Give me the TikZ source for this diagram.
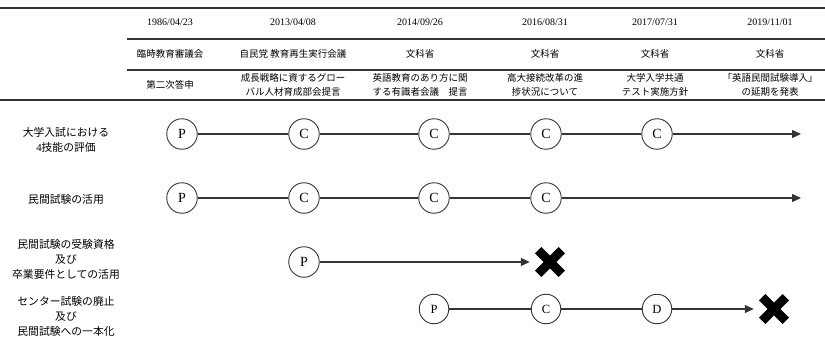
\documentclass[tikz,border=0pt]{standalone}
\usepackage{fontspec}
\setmainfont{Liberation Serif}
\newfontfamily\jp{Noto Sans CJK JP}
\usetikzlibrary{arrows.meta}
\definecolor{ln}{HTML}{333333}
\tikzset{
  cell/.style={font=\fontsize{9.5}{14}\selectfont\jp, align=center, inner sep=0pt},
  datecell/.style={font=\fontsize{10}{12}\selectfont, inner sep=0pt},
  rowlabel/.style={font=\fontsize{10.8}{15}\selectfont\jp, align=center, inner sep=0pt},
  ev/.style={circle, draw=ln, line width=0.9pt, minimum size=30.5pt, inner sep=0pt, font=\fontsize{14}{14}\selectfont},
  evs/.style={ev, minimum size=29.5pt, font=\fontsize{12.5}{12.5}\selectfont},
  tl/.style={draw=ln, line width=1.2pt},
  tla/.style={tl, -{Triangle[length=9pt,width=8pt]}},
  cross/.style={rectangle, minimum size=32pt, inner sep=0pt,
    path picture={\draw[black, line width=9pt]
      ([shift={(-11.8pt,-11.8pt)}]path picture bounding box.center) -- ([shift={(11.8pt,11.8pt)}]path picture bounding box.center)
      ([shift={(-11.8pt,11.8pt)}]path picture bounding box.center) -- ([shift={(11.8pt,-11.8pt)}]path picture bounding box.center);}},
  rulethick/.style={draw=ln, line width=1.3pt},
  rulethin/.style={draw=ln, line width=1.1pt}
}
\begin{document}
\begin{tikzpicture}[x=1pt,y=-1pt]
\useasboundingbox (0,0) rectangle (825,342);
% table rules
\coordinate (r1a) at (0,8); \coordinate (r1b) at (825,8);
\coordinate (r2a) at (127,39); \coordinate (r2b) at (825,39);
\coordinate (r3a) at (127,70); \coordinate (r3b) at (825,70);
\coordinate (r4a) at (0,100); \coordinate (r4b) at (825,100);
\draw[rulethick] (r1a) -- (r1b);
\draw[rulethin] (r2a) -- (r2b);
\draw[rulethin] (r3a) -- (r3b);
\draw[rulethick] (r4a) -- (r4b);
% dates
\node[datecell] (d1) at (170,22) {1986/04/23};
\node[datecell] (d2) at (293,22) {2013/04/08};
\node[datecell] (d3) at (420,22) {2014/09/26};
\node[datecell] (d4) at (545,22) {2016/08/31};
\node[datecell] (d5) at (655,22) {2017/07/31};
\node[datecell] (d6) at (770,22) {2019/11/01};
% organizations
\node[cell] (o1) at (170,54) {臨時教育審議会};
\node[cell] (o2) at (293,54) {自民党 教育再生実行会議};
\node[cell] (o3) at (420,54) {文科省};
\node[cell] (o4) at (545,54) {文科省};
\node[cell] (o5) at (655,54) {文科省};
\node[cell] (o6) at (770,54) {文科省};
% titles
\node[cell] (t1) at (170,85) {第二次答申};
\node[cell] (t2) at (293,85) {成長戦略に資するグロー\\バル人材育成部会提言};
\node[cell] (t3) at (420,85) {英語教育のあり方に関\\する有識者会議\quad 提言};
\node[cell] (t4) at (545,85) {高大接続改革の進\\捗状況について};
\node[cell] (t5) at (655,85) {大学入学共通\\テスト実施方針};
\node[cell] (t6) at (770,85) {「英語民間試験導入」\\の延期を発表};
% row labels
\node[rowlabel] (l1) at (66,140) {大学入試における\\{\fontspec{Liberation Serif}4}技能の評価};
\node[rowlabel] (l2) at (66,199) {民間試験の活用};
\node[rowlabel] (l3) at (66,259) {民間試験の受験資格\\及び\\卒業要件としての活用};
\node[rowlabel] (l4) at (66,316) {センター試験の廃止\\及び\\民間試験への一本化};
% row 1
\node[ev] (a1) at (182,134) {P};
\node[ev] (a2) at (304,134) {C};
\node[ev] (a3) at (434,134) {C};
\node[ev] (a4) at (546,134) {C};
\node[ev] (a5) at (657,134) {C};
\coordinate (aend) at (801,134);
\draw[tl] (a1) -- (a2);
\draw[tl] (a2) -- (a3);
\draw[tl] (a3) -- (a4);
\draw[tl] (a4) -- (a5);
\draw[tla] (a5) -- (aend);
% row 2
\node[ev] (b1) at (182,198) {P};
\node[ev] (b2) at (304,198) {C};
\node[ev] (b3) at (434,198) {C};
\node[ev] (b4) at (546,198) {C};
\coordinate (bend) at (801,198);
\draw[tl] (b1) -- (b2);
\draw[tl] (b2) -- (b3);
\draw[tl] (b3) -- (b4);
\draw[tla] (b4) -- (bend);
% row 3
\node[ev] (c1) at (304,262) {P};
\node[cross] (cx) at (550,262) {};
\draw[tla, shorten >=4pt] (c1) -- (cx);
% row 4
\node[evs] (e1) at (434,309) {P};
\node[evs] (e2) at (546,309) {C};
\node[evs] (e3) at (657,309) {D};
\node[cross] (ex) at (774,309) {};
\draw[tl] (e1) -- (e2);
\draw[tl] (e2) -- (e3);
\draw[tla, shorten >=4pt] (e3) -- (ex);
\end{tikzpicture}
\end{document}
